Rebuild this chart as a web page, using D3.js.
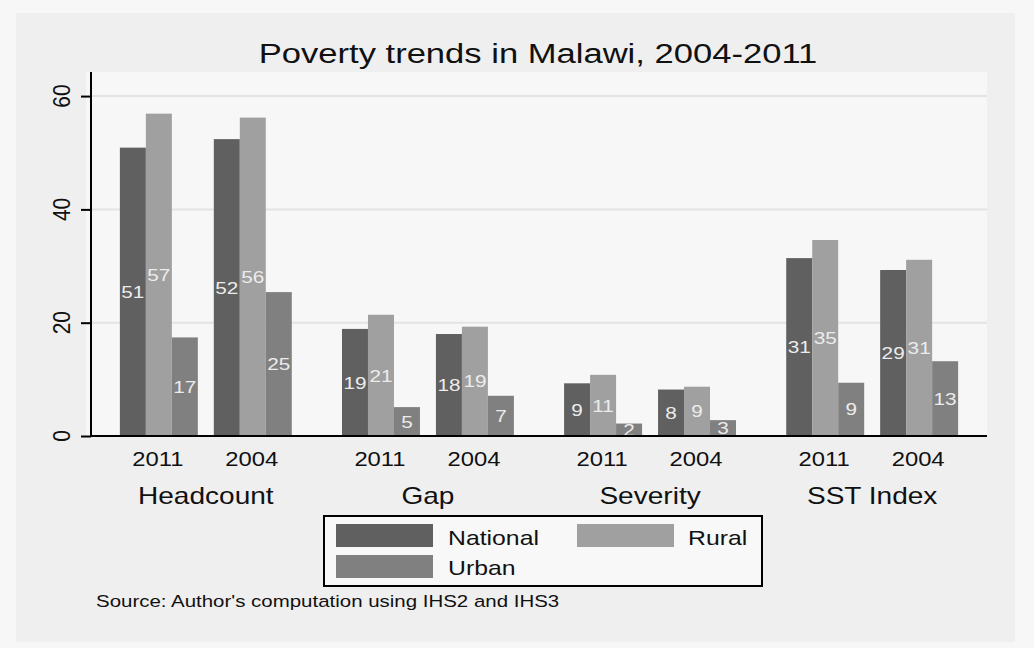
<!DOCTYPE html>
<html>
<head>
<meta charset="utf-8">
<script src="https://cdn.jsdelivr.net/npm/d3@7"></script>
<style>
  html, body { margin: 0; padding: 0; background: #f7f7f7; }
  svg { display: block; }
  text { font-family: "Liberation Sans", Arial, sans-serif; }
</style>
</head>
<body>
<script>
// ---- data ----
const categories = ["Headcount", "Gap", "Severity", "SST Index"];
const years = ["2011", "2004"];
const seriesNames = ["National", "Rural", "Urban"];
// values ordered category by category, 2011 then 2004
const national = [50.9, 52.4, 18.9, 18.0, 9.3, 8.2, 31.4, 29.3];
const rural    = [56.9, 56.2, 21.4, 19.3, 10.8, 8.7, 34.6, 31.1];
const urban    = [17.4, 25.4, 5.1, 7.1, 2.2, 2.8, 9.4, 13.2];
const yTicks = [0, 20, 40, 60];
const titleText = "Poverty trends in Malawi, 2004-2011";
const sourceText = "Source: Author's computation using IHS2 and IHS3";

// ---- layout ----
const W = 1034, H = 648;
const SX = 1.22; // horizontal stretch of the text in the reference
const plot = { left: 91, right: 987, top: 72, bottom: 436 };
const colors = { National: "#606060", Rural: "#a0a0a0", Urban: "#808080" };
const seriesValues = { National: national, Rural: rural, Urban: urban };

const svg = d3.select("body").append("svg").attr("width", W).attr("height", H);

svg.append("rect").attr("x", 0).attr("y", 0).attr("width", W).attr("height", H).attr("fill", "#f7f7f7");
svg.append("rect").attr("x", 16).attr("y", 13).attr("width", 999).attr("height", 629).attr("fill", "#efefef");
svg.append("rect").attr("x", 86).attr("y", plot.top).attr("width", plot.right - 86).attr("height", plot.bottom - plot.top).attr("fill", "#f7f7f7");

const y = d3.scaleLinear().domain([0, 64.25]).range([plot.bottom, plot.top]);
const x0 = d3.scaleBand().domain(categories).range([plot.left, plot.right]).paddingInner(0.226).paddingOuter(0.13);
const x1 = d3.scaleBand().domain(years).range([0, x0.bandwidth()]).paddingInner(0.17).paddingOuter(0);
const x2 = d3.scaleBand().domain(seriesNames).range([0, x1.bandwidth()]).padding(0);

// gridlines
svg.append("g").selectAll("line").data(yTicks.filter(d => d > 0)).join("line")
  .attr("x1", plot.left).attr("x2", plot.right)
  .attr("y1", d => y(d)).attr("y2", d => y(d))
  .attr("stroke", "#e3e3e3").attr("stroke-width", 2);

// bar data
const bars = [];
categories.forEach((c, ci) => {
  years.forEach((yr, yi) => {
    seriesNames.forEach(s => {
      bars.push({ cat: c, year: yr, series: s, value: seriesValues[s][ci * years.length + yi] });
    });
  });
});

const bx = d => x0(d.cat) + x1(d.year) + x2(d.series);

svg.append("g").selectAll("rect").data(bars).join("rect")
  .attr("x", bx)
  .attr("y", d => y(d.value))
  .attr("width", x2.bandwidth())
  .attr("height", d => y(0) - y(d.value))
  .attr("fill", d => colors[d.series]);

// value labels (centered in bar)
svg.append("g").selectAll("text").data(bars).join("text")
  .attr("transform", d => `translate(${bx(d) + x2.bandwidth() / 2},${(y(d.value) + y(0)) / 2}) scale(${SX},1)`)
  .attr("text-anchor", "middle")
  .attr("dy", "0.36em")
  .attr("font-size", 17)
  .attr("fill", "#ececec")
  .text(d => d3.format(".0f")(d.value));

// y axis
const yAxis = d3.axisLeft(y).tickValues(yTicks).tickSize(10).tickFormat("");
const gy = svg.append("g").attr("transform", `translate(${plot.left},0)`).call(yAxis);
gy.select(".domain").attr("stroke", "#000").attr("stroke-width", 2).attr("d", `M0,${plot.top}V${plot.bottom}`);
gy.selectAll(".tick line").attr("stroke", "#000").attr("stroke-width", 2);

svg.append("g").selectAll("text").data(yTicks).join("text")
  .attr("transform", d => `translate(69.5,${y(d)}) scale(1.12,1) rotate(-90)`)
  .attr("text-anchor", "middle")
  .attr("font-size", 21)
  .attr("fill", "#111")
  .text(d => d);

// x baseline
svg.append("line")
  .attr("x1", plot.left).attr("x2", plot.right)
  .attr("y1", y(0)).attr("y2", y(0))
  .attr("stroke", "#000").attr("stroke-width", 2);

// year labels
const yearLabels = [];
categories.forEach(c => years.forEach(yr => yearLabels.push({ cat: c, year: yr })));
svg.append("g").selectAll("text").data(yearLabels).join("text")
  .attr("transform", d => `translate(${x0(d.cat) + x1(d.year) + x1.bandwidth() / 2 - 1},466) scale(${SX - 0.03},1)`)
  .attr("text-anchor", "middle")
  .attr("font-size", 20)
  .attr("fill", "#111")
  .text(d => d.year);

// category labels
svg.append("g").selectAll("text").data(categories).join("text")
  .attr("transform", d => `translate(${x0(d) + x0.bandwidth() / 2},504) scale(${SX},1)`)
  .attr("text-anchor", "middle")
  .attr("font-size", 23)
  .attr("fill", "#111")
  .text(d => d);

// title
svg.append("text")
  .attr("transform", `translate(${(plot.left + plot.right) / 2 - 1},63) scale(${SX + 0.015},1)`)
  .attr("text-anchor", "middle")
  .attr("font-size", 28)
  .attr("fill", "#111")
  .text(titleText);

// legend
const lg = svg.append("g");
lg.append("rect").attr("x", 324).attr("y", 516).attr("width", 438).attr("height", 70)
  .attr("fill", "#f8f8f8").attr("stroke", "#000").attr("stroke-width", 2);
const legendPos = [
  { s: "National", sx: 336, tx: 448, row: 0 },
  { s: "Rural", sx: 577, tx: 688, row: 0 },
  { s: "Urban", sx: 336, tx: 448, row: 1 }
];
lg.selectAll("rect.sw").data(legendPos).join("rect").attr("class", "sw")
  .attr("x", d => d.sx).attr("y", d => 524 + d.row * 31)
  .attr("width", 97).attr("height", 23)
  .attr("fill", d => colors[d.s]);
lg.selectAll("text").data(legendPos).join("text")
  .attr("transform", d => `translate(${d.tx},${545 + d.row * 30}) scale(${SX + 0.02},1)`)
  .attr("font-size", 20)
  .attr("fill", "#111")
  .text(d => d.s);

// source note
svg.append("text")
  .attr("transform", `translate(96,607) scale(${SX + 0.02},1)`)
  .attr("font-size", 16.5)
  .attr("fill", "#111")
  .text(sourceText);
</script>
</body>
</html>
